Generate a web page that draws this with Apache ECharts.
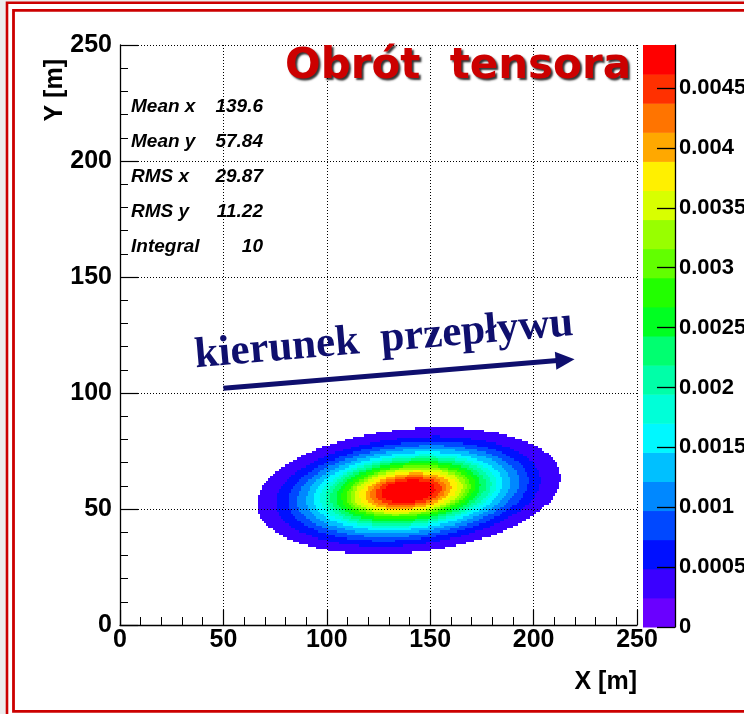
<!DOCTYPE html>
<html><head><meta charset="utf-8">
<script src="https://cdn.jsdelivr.net/npm/echarts@6/dist/echarts.min.js"></script>
<style>html,body{margin:0;padding:0;background:#fff}#c{width:744px;height:714px}</style>
</head><body><div id="c"></div>
<script>
// ---------- values ----------
const statsLabels = ['Mean x', 'Mean y', 'RMS x', 'RMS y', 'Integral'];
const statsValues = ['139.6', '57.84', '29.87', '11.22', '10'];
const zMax = 0.00486;            // top of the colour scale
const nContours = 20;            // number of colour bands
const bandColors = ['#6a00ff', '#3a00ff', '#0010ff', '#0048ff', '#0088ff', '#00c0ff', '#00f8ff', '#00ffd8',
  '#00ffa8', '#00ff70', '#00ff22', '#22ff00', '#62ff00', '#98ff00', '#d8ff00', '#fff000',
  '#ffa800', '#ff7400', '#ff3000', '#ff0000'];
// outer contour (ellipse) of the distribution, data units
const outerHalfX = 73.0;   // half extent along x
const outerHalfY = 27.0;   // half extent along y
const outerTiltY = 5.6;    // y offset of the right-most point from the centre
// half widths of the 19 contour lines along the row through the centre (data units)
const ringHalfX = [73.0, 64.0, 58.0, 53.5, 49.5, 45.5, 42.5, 40.0, 37.5, 35.0,
  32.5, 30.0, 28.0, 26.0, 23.5, 21.0, 18.5, 16.0, 13.0];
// histogram binning
const binsX = 250, binsY = 250;
// flow direction arrow (data units)
const flowArrowStart = [50, 102];
const flowArrowEnd = [219.8, 114.6];
const flowLabel = 'kierunek  przepływu';
const titleText = 'Obrót  tensora';

// ---------- build cells from the contours ----------
const cx = parseFloat(statsValues[0]), cy = parseFloat(statsValues[1]);
const Sxx = outerHalfX * outerHalfX, Syy = outerHalfY * outerHalfY, Sxy = outerHalfX * outerTiltY;
const det = Sxx * Syy - Sxy * Sxy;
const ringScale = ringHalfX.map(h => h / ringHalfX[0]);
const cellW = 250 / binsX, cellH = 250 / binsY;
const cells = [];
for (let i = 0; i < binsX; i++) {
  for (let j = 0; j < binsY; j++) {
    const x = (i + 0.5) * cellW, y = (j + 0.5) * cellH;
    const u = x - cx, v = y - cy;
    const q = Math.sqrt((Syy * u * u - 2 * Sxy * u * v + Sxx * v * v) / det);
    if (q > 1) continue;
    let band = 0;
    for (const s of ringScale) if (q <= s) band++;
    cells.push([x, y, band]);
  }
}
const step = zMax / nContours;
const colorBands = bandColors.map((c, i) => [i * step, (i + 1) * step, i]);

const chart = echarts.init(document.getElementById('c'), null, {renderer: 'canvas', width: 744, height: 714});
const FONT = '"Liberation Sans", Arial, sans-serif';
const axisCommon = {
  type: 'value', min: 0, max: 250, interval: 50, z: 5,
  axisLine: {show: true, onZero: false, lineStyle: {color: '#000', width: 1.3}},
  axisTick: {show: true, inside: true, length: 16, lineStyle: {color: '#000', width: 1.2}},
  minorTick: {show: true, splitNumber: 5, length: 8, lineStyle: {color: '#000', width: 1}},
  splitLine: {show: true, lineStyle: {color: '#000', width: 1, type: [1, 2]}},
  axisLabel: {color: '#000', fontSize: 25, fontWeight: 'bold', fontFamily: FONT}
};

const option = {
  backgroundColor: '#ececec',
  animation: false,
  grid: [
    {left: 120, top: 45, width: 517, height: 580, outerBoundsMode: 'none', containLabel: false},
    {left: 643, top: 45, width: 32, height: 582, outerBoundsMode: 'none', containLabel: false}
  ],
  xAxis: [
    Object.assign({}, axisCommon, {gridIndex: 0, axisLabel: Object.assign({}, axisCommon.axisLabel, {margin: 3}),
      axisTick: Object.assign({}, axisCommon.axisTick, {length: 15})}),
    {type: 'value', gridIndex: 1, min: 0, max: 1, show: false}
  ],
  yAxis: [
    Object.assign({}, axisCommon, {gridIndex: 0, axisLabel: Object.assign({}, axisCommon.axisLabel, {margin: 8}),
      axisTick: Object.assign({}, axisCommon.axisTick, {length: 18})}),
    {type: 'value', gridIndex: 1, min: 0, max: zMax, interval: 0.0005, position: 'right', z: 5,
      axisLine: {show: true, onZero: false, lineStyle: {color: '#000', width: 1.3}},
      axisTick: {show: true, inside: true, length: 18, lineStyle: {color: '#000', width: 1.3}},
      splitLine: {show: false},
      axisLabel: {color: '#000', fontSize: 22, fontWeight: 'bold', fontFamily: FONT, margin: 4, showMaxLabel: false,
        formatter: v => String(+v.toFixed(4))}}
  ],
  graphic: [
    {type: 'rect', z: -100, shape: {x: 7, y: 2.7, width: 800, height: 800}, style: {fill: '#fff', stroke: '#cc0000', lineWidth: 2.6}},
    {type: 'rect', z: -99, shape: {x: 13.5, y: 10.4, width: 800, height: 701}, style: {fill: '#fff', stroke: '#cc0000', lineWidth: 2.8}},
    {type: 'text', z: 100, x: 458, y: 67, style: {text: titleText, font: 'bold 42px "DejaVu Sans", sans-serif', fill: '#cc0000',
      align: 'center', verticalAlign: 'middle', textShadowColor: 'rgba(0,0,0,0.8)', textShadowBlur: 2, textShadowOffsetX: 2, textShadowOffsetY: 2}},
    {type: 'text', z: 100, x: 384, y: 340, rotation: 0.085, style: {text: flowLabel, font: 'bold 43px "Liberation Serif", serif', fill: '#0f0f6e',
      align: 'center', verticalAlign: 'middle'}},
    {type: 'text', z: 100, x: 637, y: 682, style: {text: 'X [m]', font: 'bold 25px ' + FONT, fill: '#000', align: 'right', verticalAlign: 'middle'}},
    {type: 'text', z: 100, x: 55, y: 59, rotation: Math.PI / 2, style: {text: 'Y [m]', font: 'bold 25px ' + FONT, fill: '#000', align: 'right', verticalAlign: 'middle'}}
  ].concat(statsLabels.map((l, i) => ({type: 'text', z: 100, x: 131, y: 107 + 35 * i,
      style: {text: l, font: 'italic bold 19px ' + FONT, fill: '#000', align: 'left', verticalAlign: 'middle'}})))
   .concat(statsValues.map((v, i) => ({type: 'text', z: 100, x: 263, y: 107 + 35 * i,
      style: {text: v, font: 'italic bold 19px ' + FONT, fill: '#000', align: 'right', verticalAlign: 'middle'}}))),
  series: [
    {
      type: 'custom', name: 'density', xAxisIndex: 0, yAxisIndex: 0, z: 1, silent: true,
      encode: {x: 0, y: 1},
      data: cells,
      renderItem: function (params, api) {
        const x = api.value(0), y = api.value(1);
        const p = api.coord([x - cellW / 2, y + cellH / 2]);
        const q = api.coord([x + cellW / 2, y - cellH / 2]);
        const x0 = Math.floor(p[0]), y0 = Math.floor(p[1]);
        return {type: 'rect', shape: {x: x0, y: y0, width: Math.ceil(q[0]) - x0, height: Math.ceil(q[1]) - y0},
          style: {fill: bandColors[api.value(2)]}};
      }
    },
    {
      type: 'custom', name: 'palette', xAxisIndex: 1, yAxisIndex: 1, z: 1, silent: true,
      encode: {y: [0, 1]},
      data: colorBands,
      renderItem: function (params, api) {
        const p1 = api.coord([0, api.value(1)]);
        const p2 = api.coord([1, api.value(0)]);
        return {type: 'rect', shape: {x: p1[0], y: p1[1], width: p2[0] - p1[0], height: p2[1] - p1[1] + 0.5},
          style: {fill: bandColors[api.value(2)]}};
      }
    },
    {
      type: 'custom', name: 'flow', xAxisIndex: 0, yAxisIndex: 0, z: 10, silent: true,
      encode: {x: [0, 2], y: [1, 3]},
      data: [[flowArrowStart[0], flowArrowStart[1], flowArrowEnd[0], flowArrowEnd[1]]],
      renderItem: function (params, api) {
        const a = api.coord([api.value(0), api.value(1)]);
        const b = api.coord([api.value(2), api.value(3)]);
        const dx = b[0] - a[0], dy = b[1] - a[1], L = Math.sqrt(dx * dx + dy * dy);
        const ux = dx / L, uy = dy / L, hl = 19, hw = 9;
        const base = [b[0] - ux * hl, b[1] - uy * hl];
        return {type: 'group', children: [
          {type: 'line', shape: {x1: a[0], y1: a[1], x2: base[0] + ux * 2, y2: base[1] + uy * 2}, style: {stroke: '#0f0f6e', lineWidth: 5}},
          {type: 'polygon', shape: {points: [b, [base[0] - uy * hw, base[1] + ux * hw], [base[0] + uy * hw, base[1] - ux * hw]]}, style: {fill: '#0f0f6e'}}
        ]};
      }
    }
  ]
};
chart.setOption(option);
</script></body></html>
